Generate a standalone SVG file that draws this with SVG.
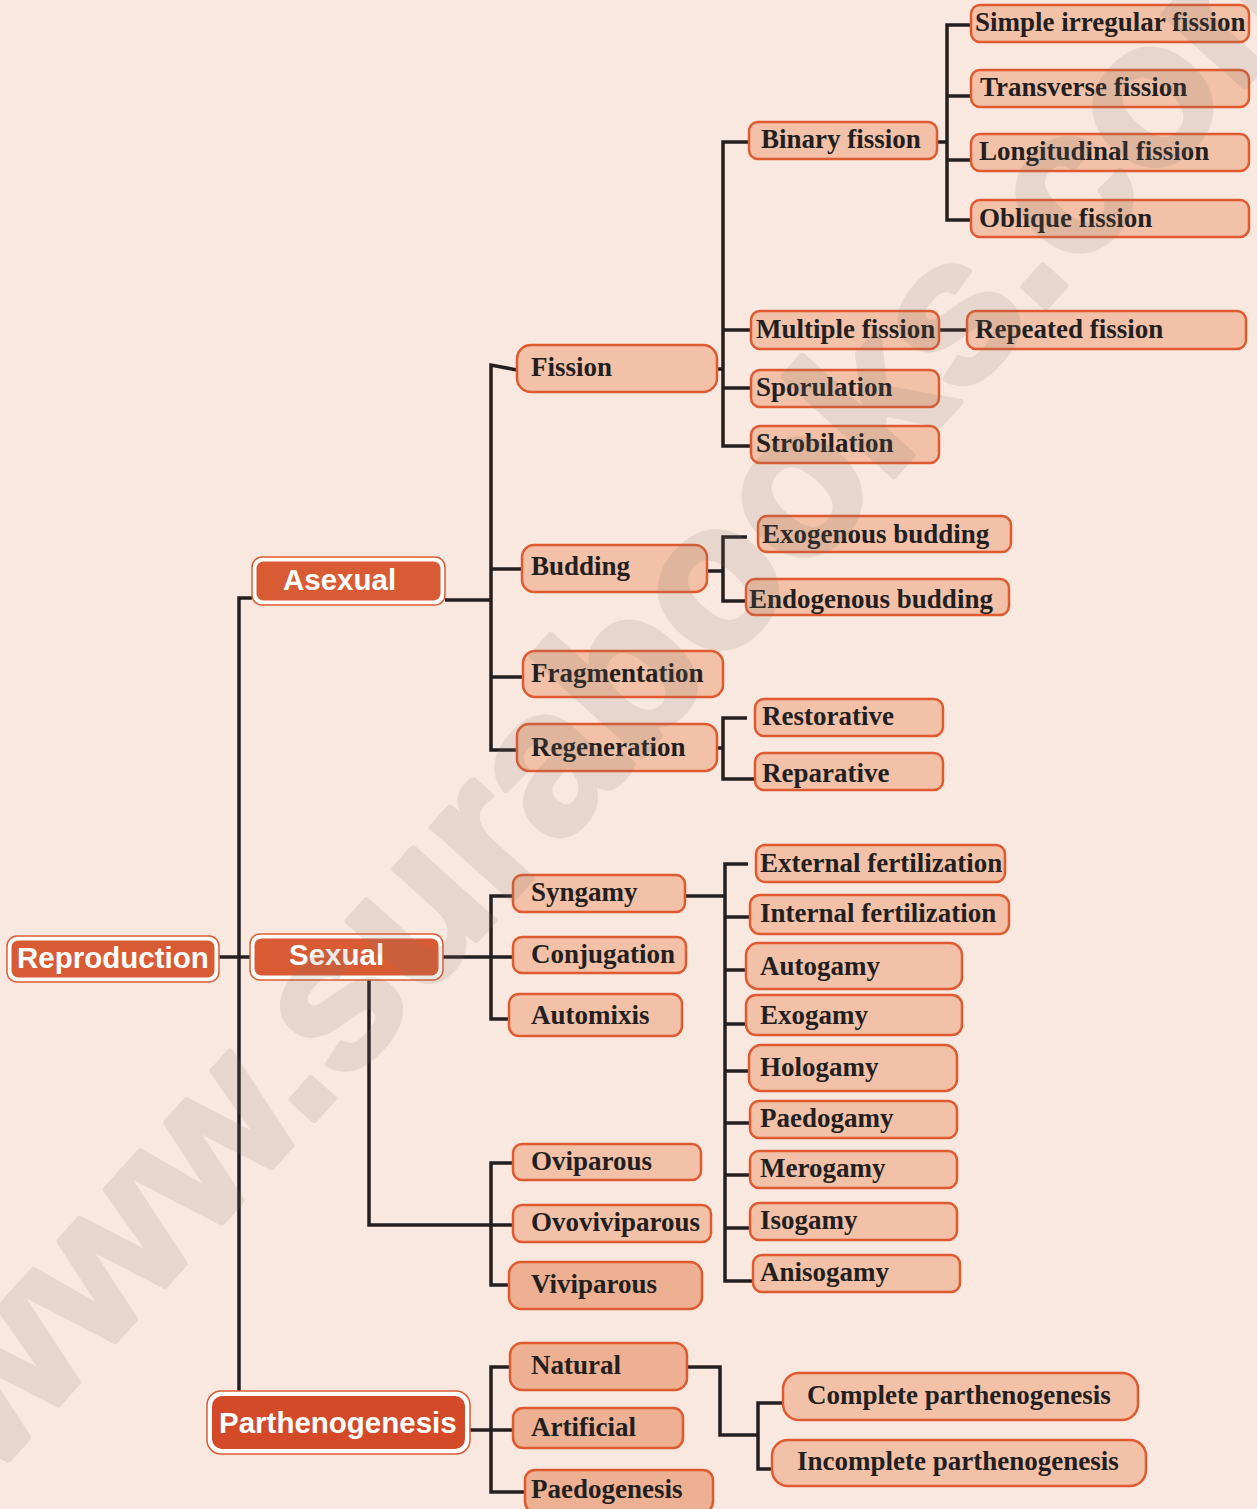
<svg xmlns="http://www.w3.org/2000/svg" width="1257" height="1509" viewBox="0 0 1257 1509">
<style>
.bg{fill:#f9e8df}
.conn{fill:none;stroke:#231f20;stroke-width:3.5;stroke-linejoin:miter}
.box{fill:#f2c1a8;stroke:#e05a30;stroke-width:2.5}
.box2{fill:#edb092;stroke:#e05a30;stroke-width:2.5}
.lbl{font-family:"Liberation Serif","Times New Roman",serif;font-weight:bold;font-size:27px;fill:#231f20}
.mo{fill:#ffffff;stroke:#e05a30;stroke-width:1.5}
.mi{fill:#d95b33}
.mi2{fill:#d44a28}
.mt{font-family:"Liberation Sans",Arial,sans-serif;font-weight:bold;font-size:29.5px;fill:#ffffff}
.wm{font-family:"Liberation Sans",Arial,sans-serif;font-weight:bold;font-size:205px;fill:#82786a;stroke:#82786a;stroke-width:6;stroke-linejoin:round;opacity:0.15}
</style>
<rect class="bg" x="0" y="0" width="1257" height="1509"/>
<g id="connectors">
<path class="conn" d="M219,957 H250"/>
<path class="conn" d="M252,598 H239 V1391"/>
<path class="conn" d="M445,600 H491"/>
<path class="conn" d="M517,370 L491,365 V750 H517"/>
<path class="conn" d="M491,569 H522"/>
<path class="conn" d="M491,677 H523"/>
<path class="conn" d="M717,369 H723"/>
<path class="conn" d="M749,142 H723 V446 H751"/>
<path class="conn" d="M723,330 H751"/>
<path class="conn" d="M723,388 H751"/>
<path class="conn" d="M937,142 H947"/>
<path class="conn" d="M971,25 H947 V220 H971"/>
<path class="conn" d="M947,96 H971"/>
<path class="conn" d="M947,160 H971"/>
<path class="conn" d="M939,330 H967"/>
<path class="conn" d="M707,571 H723"/>
<path class="conn" d="M747,537 H723 V601 H747"/>
<path class="conn" d="M717,748 H723"/>
<path class="conn" d="M747,718 H723 V779 H755"/>
<path class="conn" d="M443,957 H513"/>
<path class="conn" d="M513,896 H491 V1019 H509"/>
<path class="conn" d="M685,896 H725"/>
<path class="conn" d="M748,864 H725 V1281 H753"/>
<path class="conn" d="M725,917 H750"/>
<path class="conn" d="M725,970 H746"/>
<path class="conn" d="M725,1024 H746"/>
<path class="conn" d="M725,1071 H749"/>
<path class="conn" d="M725,1123 H750"/>
<path class="conn" d="M725,1175 H750"/>
<path class="conn" d="M725,1228 H750"/>
<path class="conn" d="M369,980 V1225 H513"/>
<path class="conn" d="M513,1163 H491 V1285 H509"/>
<path class="conn" d="M470,1430 H513"/>
<path class="conn" d="M510,1367 H491 V1492 H525"/>
<path class="conn" d="M687,1367 H720 V1435 H758"/>
<path class="conn" d="M783,1403 H758 V1469 H772"/>
</g>
<g id="n-reproduction"><rect class="mo" x="7" y="936" width="212" height="46" rx="10"/><rect class="mi" x="11.5" y="940.5" width="203" height="37" rx="7"/><text class="mt" x="17" y="968">Reproduction</text></g>
<g id="n-asexual"><rect class="mo" x="252" y="557" width="193" height="48" rx="10"/><rect class="mi" x="256.5" y="561.5" width="184" height="39" rx="7"/><text class="mt" x="283" y="590">Asexual</text></g>
<g id="n-sexual"><rect class="mo" x="250" y="934" width="193" height="46" rx="10"/><rect class="mi" x="254.5" y="938.5" width="184" height="37" rx="7"/><text class="mt" x="289" y="965">Sexual</text></g>
<g id="n-parthenogenesis"><rect class="mo" x="207" y="1391" width="263" height="63" rx="14"/><rect class="mi2" x="212" y="1396" width="253" height="53" rx="10"/><text class="mt" x="219" y="1433">Parthenogenesis</text></g>
<g id="n-simple"><rect class="box" x="971" y="5" width="278" height="37" rx="9"/><text class="lbl" x="975" y="31">Simple irregular fission</text></g>
<g id="n-transverse"><rect class="box" x="971" y="70" width="278" height="37" rx="9"/><text class="lbl" x="980" y="96">Transverse fission</text></g>
<g id="n-longitudinal"><rect class="box" x="971" y="134" width="278" height="37" rx="9"/><text class="lbl" x="979" y="160">Longitudinal fission</text></g>
<g id="n-oblique"><rect class="box" x="971" y="200" width="278" height="37" rx="9"/><text class="lbl" x="979" y="227">Oblique fission</text></g>
<g id="n-binary"><rect class="box" x="749" y="122" width="188" height="37" rx="9"/><text class="lbl" x="761" y="148">Binary fission</text></g>
<g id="n-multiple"><rect class="box" x="751" y="311" width="188" height="38" rx="9"/><text class="lbl" x="756" y="338">Multiple fission</text></g>
<g id="n-repeated"><rect class="box" x="967" y="311" width="279" height="38" rx="9"/><text class="lbl" x="975" y="338">Repeated fission</text></g>
<g id="n-sporulation"><rect class="box" x="751" y="370" width="188" height="37" rx="9"/><text class="lbl" x="756" y="396">Sporulation</text></g>
<g id="n-strobilation"><rect class="box" x="751" y="426" width="188" height="37" rx="9"/><text class="lbl" x="756" y="452">Strobilation</text></g>
<g id="n-fission"><rect class="box" x="517" y="345" width="200" height="47" rx="14"/><text class="lbl" x="531" y="376">Fission</text></g>
<g id="n-budding"><rect class="box" x="522" y="545" width="185" height="47" rx="12"/><text class="lbl" x="531" y="575">Budding</text></g>
<g id="n-exogenous"><rect class="box" x="758" y="516" width="253" height="36" rx="9"/><text class="lbl" x="762" y="543">Exogenous budding</text></g>
<g id="n-endogenous"><rect class="box" x="746" y="579" width="263" height="36" rx="9"/><text class="lbl" x="749" y="608">Endogenous budding</text></g>
<g id="n-fragmentation"><rect class="box" x="523" y="651" width="200" height="46" rx="12"/><text class="lbl" x="531" y="682">Fragmentation</text></g>
<g id="n-regeneration"><rect class="box" x="517" y="724" width="200" height="47" rx="12"/><text class="lbl" x="531" y="756">Regeneration</text></g>
<g id="n-restorative"><rect class="box" x="755" y="699" width="188" height="37" rx="9"/><text class="lbl" x="762" y="725">Restorative</text></g>
<g id="n-reparative"><rect class="box" x="755" y="753" width="188" height="37" rx="9"/><text class="lbl" x="762" y="782">Reparative</text></g>
<g id="n-syngamy"><rect class="box" x="513" y="875" width="172" height="37" rx="9"/><text class="lbl" x="531" y="901">Syngamy</text></g>
<g id="n-conjugation"><rect class="box" x="513" y="937" width="173" height="36" rx="9"/><text class="lbl" x="531" y="963">Conjugation</text></g>
<g id="n-automixis"><rect class="box" x="509" y="994" width="173" height="42" rx="10"/><text class="lbl" x="531" y="1024">Automixis</text></g>
<g id="n-external"><rect class="box" x="756" y="845" width="249" height="37" rx="9"/><text class="lbl" x="760" y="872">External fertilization</text></g>
<g id="n-internal"><rect class="box" x="750" y="895" width="259" height="39" rx="10"/><text class="lbl" x="760" y="922">Internal fertilization</text></g>
<g id="n-autogamy"><rect class="box" x="746" y="943" width="216" height="46" rx="12"/><text class="lbl" x="760" y="975">Autogamy</text></g>
<g id="n-exogamy"><rect class="box" x="746" y="995" width="216" height="40" rx="10"/><text class="lbl" x="760" y="1024">Exogamy</text></g>
<g id="n-hologamy"><rect class="box" x="749" y="1045" width="208" height="46" rx="12"/><text class="lbl" x="760" y="1076">Hologamy</text></g>
<g id="n-paedogamy"><rect class="box" x="750" y="1101" width="207" height="37" rx="9"/><text class="lbl" x="760" y="1127">Paedogamy</text></g>
<g id="n-merogamy"><rect class="box" x="750" y="1151" width="207" height="37" rx="9"/><text class="lbl" x="760" y="1177">Merogamy</text></g>
<g id="n-isogamy"><rect class="box" x="750" y="1203" width="207" height="37" rx="9"/><text class="lbl" x="760" y="1229">Isogamy</text></g>
<g id="n-anisogamy"><rect class="box" x="753" y="1255" width="207" height="37" rx="9"/><text class="lbl" x="760" y="1281">Anisogamy</text></g>
<g id="n-oviparous"><rect class="box" x="513" y="1144" width="188" height="36" rx="9"/><text class="lbl" x="531" y="1170">Oviparous</text></g>
<g id="n-ovoviviparous"><rect class="box" x="513" y="1205" width="198" height="37" rx="9"/><text class="lbl" x="531" y="1231">Ovoviviparous</text></g>
<g id="n-viviparous"><rect class="box2" x="509" y="1262" width="193" height="47" rx="12"/><text class="lbl" x="531" y="1293">Viviparous</text></g>
<g id="n-natural"><rect class="box2" x="510" y="1343" width="177" height="47" rx="12"/><text class="lbl" x="531" y="1374">Natural</text></g>
<g id="n-artificial"><rect class="box2" x="513" y="1408" width="170" height="40" rx="10"/><text class="lbl" x="531" y="1436">Artificial</text></g>
<g id="n-paedogenesis"><rect class="box2" x="525" y="1470" width="188" height="42" rx="10"/><text class="lbl" x="531" y="1498">Paedogenesis</text></g>
<g id="n-complete"><rect class="box" x="783" y="1373" width="355" height="47" rx="16"/><text class="lbl" x="807" y="1404">Complete parthenogenesis</text></g>
<g id="n-incomplete"><rect class="box" x="772" y="1440" width="374" height="46" rx="16"/><text class="lbl" x="797" y="1470">Incomplete parthenogenesis</text></g>
<text class="wm" transform="translate(-10,1480) rotate(-48)">www.surabooks.com</text>
</svg>
